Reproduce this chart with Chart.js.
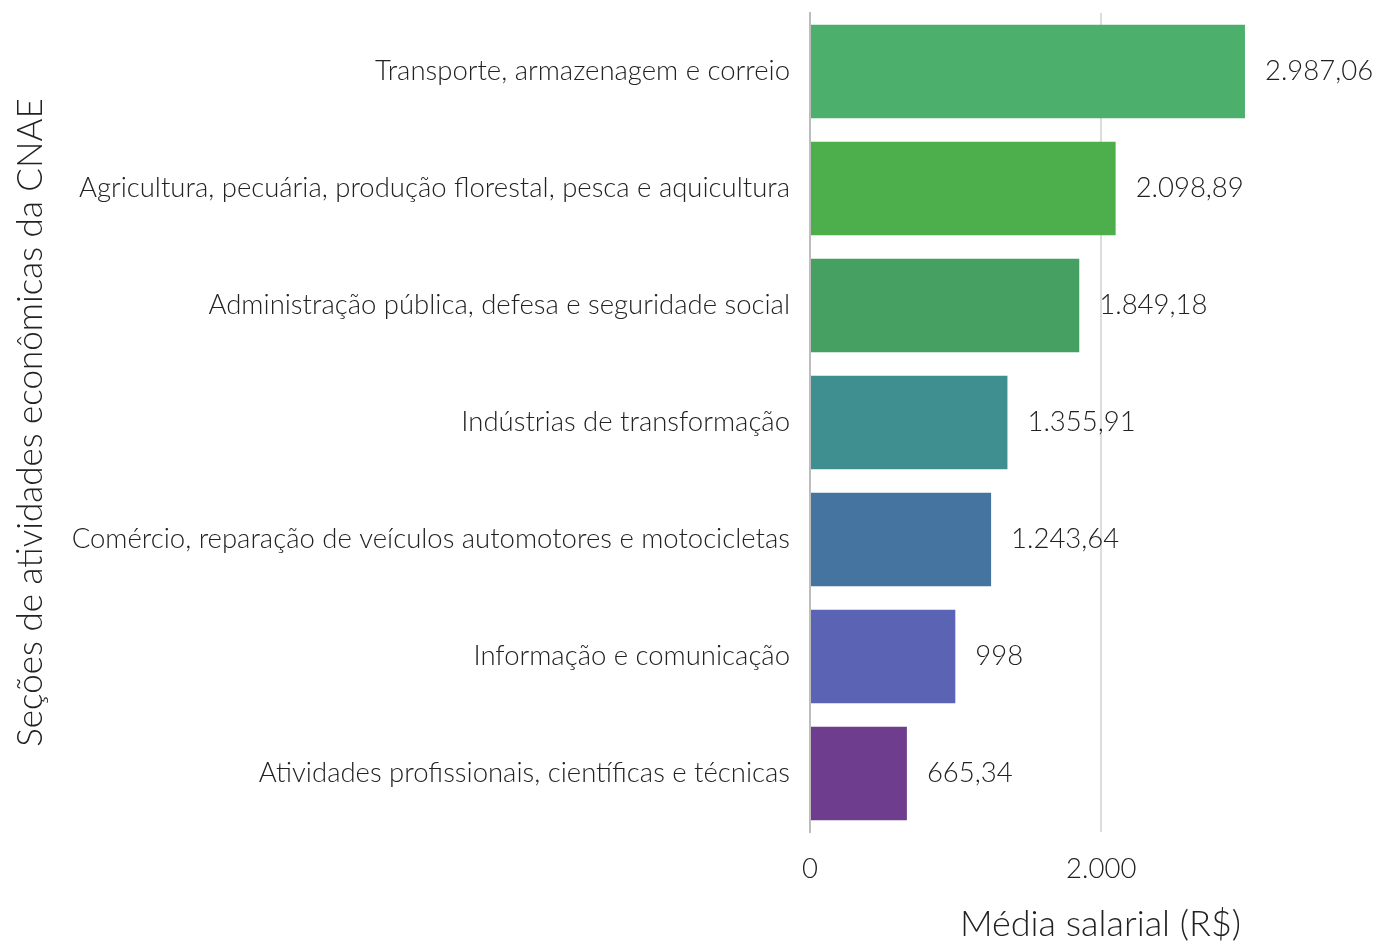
<!DOCTYPE html>
<html>
<head>
<meta charset="utf-8">
<script src="https://cdn.jsdelivr.net/npm/chart.js@4"></script>
<style>
  html, body { margin: 0; padding: 0; background: #fff; }
  #wrap { width: 1391px; height: 942px; }
</style>
</head>
<body>
<div id="wrap"><canvas id="myChart"></canvas></div>
<script>
var categories = [
	"Transporte, armazenagem e correio",
	"Agricultura, pecuária, produção florestal, pesca e aquicultura",
	"Administração pública, defesa e seguridade social",
	"Indústrias de transformação",
	"Comércio, reparação de veículos automotores e motocicletas",
	"Informação e comunicação",
	"Atividades profissionais, científicas e técnicas",
];
var salaries = [2987.06, 2098.89, 1849.18, 1355.91, 1243.64, 998, 665.34];
var barColors = ["#4caf6c", "#4caf4c", "#45a061", "#3f8e90", "#44749f", "#5b63b5", "#6e3d8e"];
var xTicks = [0, 2000];

var fmt = new Intl.NumberFormat("pt-BR", { maximumFractionDigits: 2 });

// draws the value next to each bar
var valueLabels = {
	id: "valueLabels",
	afterDatasetsDraw: function (chart) {
		var ctx = chart.ctx;
		var meta = chart.getDatasetMeta(0);
		ctx.save();
		ctx.font = "300 27.5px Lato";
		ctx.fillStyle = "#222";
		ctx.textAlign = "left";
		ctx.textBaseline = "middle";
		meta.data.forEach(function (bar, i) {
			ctx.fillText(fmt.format(salaries[i]), bar.x + 20, bar.y);
		});
		ctx.restore();
	},
};

document.addEventListener("DOMContentLoaded", function () {
	var ctx = document.getElementById("myChart").getContext("2d");
	var myChart = new Chart(ctx, {
		type: "bar",
		data: {
			labels: categories,
			datasets: [
				{
					data: salaries,
					backgroundColor: barColors,
					barPercentage: 0.8,
					categoryPercentage: 1,
				},
			],
		},
		options: {
			indexAxis: "y",
			responsive: true,
			maintainAspectRatio: false,
			animation: false,
			layout: { padding: { top: 13, right: 0, bottom: 0, left: 0 } },
			plugins: {
				legend: { display: false },
				tooltip: { enabled: false },
			},
			scales: {
				x: {
					min: 0,
					max: 3990,
					afterBuildTicks: function (scale) {
						scale.ticks = xTicks.map(function (v) { return { value: v }; });
					},
					afterFit: function (scale) {
						scale.height = 110;
						scale.paddingLeft = 0;
						scale.paddingRight = 0;
					},
					grid: {
						drawTicks: false,
						color: function (c) { return c.tick && c.tick.value === 0 ? "#bdbdbd" : "#dcdcdc"; },
						lineWidth: 2,
					},
					border: { display: false },
					ticks: {
						padding: 21,
						color: "#222",
						font: { family: "Lato", size: 27.5, weight: 300 },
						callback: function (v) { return fmt.format(v); },
					},
					title: {
						display: true,
						text: "Média salarial (R$)",
						color: "#222",
						font: { family: "Lato", size: 36, weight: 300 },
						padding: { top: 16, bottom: -4 },
					},
				},
				y: {
					afterFit: function (scale) {
						scale.width = 810;
						scale.paddingTop = 0;
						scale.paddingBottom = 0;
					},
					grid: { display: false, drawTicks: false },
					border: { display: true, color: "#bdbdbd", width: 2 },
					ticks: {
						padding: 20,
						color: "#222",
						font: { family: "Lato", size: 27.5, weight: 300 },
					},
					title: {
						display: true,
						text: "Seções de atividades econômicas da CNAE",
						color: "#222",
						font: { family: "Lato", size: 35, weight: 300 },
						padding: { top: 10, bottom: 0 },
					},
				},
			},
		},
		plugins: [valueLabels],
	});
});
</script>
</body>
</html>
